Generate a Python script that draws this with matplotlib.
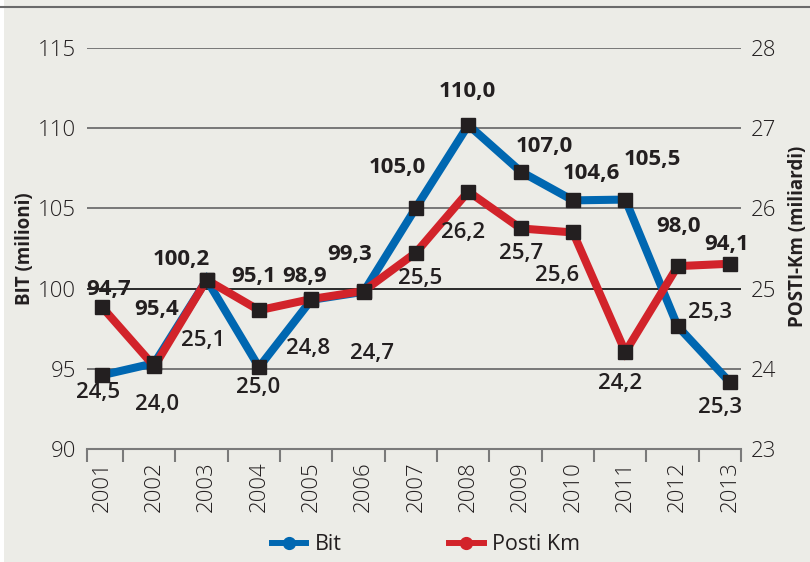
import matplotlib
matplotlib.use("Agg")
import matplotlib.pyplot as plt
from matplotlib.lines import Line2D
from matplotlib.patches import Rectangle

plt.rcParams['font.family'] = ['Open Sans', 'DejaVu Sans']

# ---- data ----
years = ['2001', '2002', '2003', '2004', '2005', '2006', '2007',
         '2008', '2009', '2010', '2011', '2012', '2013']
bit_values = [94.6, 95.35, 100.55, 95.1, 99.3, 99.8, 105.05,
              110.2, 107.3, 105.5, 105.55, 97.65, 94.15]
posti_values = [24.77, 24.03, 25.11, 24.73, 24.87, 24.97, 25.45,
                26.21, 25.75, 25.70, 24.21, 25.28, 25.31]
bit_labels = ['94,7', '95,4', '100,2', '95,1', '98,9', '99,3', '105,0',
              '110,0', '107,0', '104,6', '105,5', '98,0', '94,1']
posti_labels = ['24,5', '24,0', '25,1', '25,0', '24,8', '24,7', '25,5',
                '26,2', '25,7', '25,6', '24,2', '25,3', '25,3']
left_ticks = [90, 95, 100, 105, 110, 115]
right_ticks = [23, 24, 25, 26, 27, 28]

# ---- layout (pixel offsets of value labels from their markers) ----
bit_off = [(7, 86), (2, 54), (-25, 20), (-5, 91), (-7, 23), (-14, 37), (-19, 40),
           (-1, 33), (24, 25), (18, 27), (27, 40), (1, 100), (-3, 138)]
posti_off = [(-4, -85), (3, -38), (-4, -61), (-1, -77), (-3, -49), (8, -62), (4, -26),
             (-5, -41), (0, -25), (-16, -43), (-5, -32), (32, -46), (-10, -144)]

BG = '#ECECE7'
BLUE = '#0067B1'
RED = '#D2232A'
DARK = '#231F20'
GRID = '#777777'

W, H = 810, 562
fig = plt.figure(figsize=(W / 100, H / 100), dpi=100)
fig.patch.set_facecolor(BG)
fig.add_artist(Rectangle((0, 0), 4 / W, 1, transform=fig.transFigure,
                         facecolor='white', edgecolor='none'))
fig.add_artist(Line2D([0, 1], [1 - 7 / H] * 2, transform=fig.transFigure,
                      color='#6a6a6a', lw=1.5))

ax = fig.add_axes([87 / W, 1 - 449 / H, (741 - 87) / W, (449 - 48) / H])
ax.set_facecolor('none')
x = list(range(len(years)))
ax.set_xlim(-0.287, 12.21)
ax.set_ylim(left_ticks[0], left_ticks[-1])

for v in left_ticks[1:]:
    ax.axhline(v, color=('#2a2a2a' if v == 100 else GRID), lw=1.4, zorder=0)

for s in ['top', 'left', 'right']:
    ax.spines[s].set_visible(False)
ax.spines['bottom'].set_color('#7a7a7a')
ax.spines['bottom'].set_linewidth(1.5)

TICKFS = 16
ax.set_yticks(left_ticks)
ax.set_yticklabels([str(t) for t in left_ticks])
ax.tick_params(axis='y', length=0, pad=8, labelsize=TICKFS, labelcolor=DARK)
for t in ax.get_yticklabels():
    t.set_fontweight('light')

ax.set_xticks(x)
ax.set_xticklabels(years, rotation=90, fontsize=TICKFS, fontweight='light', color=DARK)
ax.tick_params(axis='x', which='major', length=0, pad=9.0)
bounds = [-0.287] + [i + 0.4 for i in range(12)] + [12.21]
ax.set_xticks(bounds, minor=True)
ax.tick_params(axis='x', which='minor', length=9.5, width=1.5, color='#7a7a7a', direction='out')

ax.plot(x, bit_values, color=BLUE, lw=5.8, solid_joinstyle='miter', zorder=2)

ax2 = ax.twinx()
ax2.set_ylim(right_ticks[0], right_ticks[-1])
for s in ['top', 'left', 'right', 'bottom']:
    ax2.spines[s].set_visible(False)
ax2.set_yticks(right_ticks)
ax2.set_yticklabels([str(t) for t in right_ticks])
ax2.tick_params(axis='y', length=0, pad=7, labelsize=TICKFS, labelcolor=DARK)
for t in ax2.get_yticklabels():
    t.set_fontweight('light')

ax2.plot(x, posti_values, color=RED, lw=5.8, solid_joinstyle='miter', zorder=2)
ax2.plot(x, bit_values, transform=ax.transData, ls='none', marker='s',
         ms=9.5, color=DARK, zorder=3)
ax2.plot(x, posti_values, ls='none', marker='s', ms=9.5, color=DARK, zorder=3)

for i in x:
    ax2.annotate(bit_labels[i], xy=(i, bit_values[i]), xycoords=ax.transData,
                 xytext=bit_off[i], textcoords='offset pixels',
                 ha='center', va='center', fontsize=16, fontweight='bold',
                 color=DARK, zorder=4)
    ax2.annotate(posti_labels[i], xy=(i, posti_values[i]), xycoords=ax2.transData,
                 xytext=posti_off[i], textcoords='offset pixels',
                 ha='center', va='center', fontsize=16, fontweight='semibold',
                 color=DARK, zorder=4)

fig.text(25 / W, 1 - 249 / H, 'BIT (milioni)', rotation=90, ha='center', va='center',
         fontsize=13.5, fontweight='bold', color=DARK)
fig.text(798 / W, 1 - 236 / H, 'POSTI-Km (miliardi)', rotation=90, ha='center',
         va='center', fontsize=13.5, fontweight='bold', color=DARK)

handles = [Line2D([], [], color=BLUE, lw=4.3, marker='o', ms=8.5),
           Line2D([], [], color=RED, lw=4.3, marker='o', ms=8.5)]
fig.legend(handles, ['Bit', 'Posti Km'], loc='center',
           bbox_to_anchor=(426 / W, 1 - 545 / H), ncol=2, frameon=False,
           fontsize=15.5, handlelength=1.6, handletextpad=0.4, columnspacing=5.0,
           labelcolor=DARK)

fig.savefig('out.png', dpi=100, facecolor=BG)
